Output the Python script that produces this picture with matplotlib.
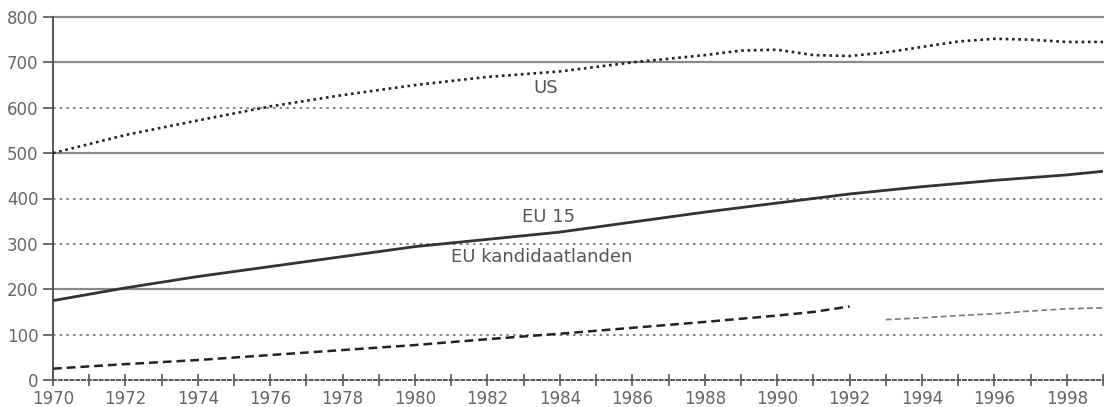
import matplotlib
matplotlib.use("Agg")
import matplotlib.pyplot as plt
import numpy as np

# data
us_years = [1970, 1972, 1974, 1976, 1978, 1980, 1982, 1984, 1986, 1988, 1989, 1990,
            1991, 1992, 1993, 1994, 1995, 1996, 1997, 1998, 1999]
us_vals = [500, 540, 572, 603, 628, 650, 668, 680, 700, 716, 726, 728,
           716, 714, 722, 734, 746, 752, 750, 745, 745]

eu15_years = [1970, 1972, 1974, 1976, 1978, 1980, 1982, 1984, 1986, 1988, 1990,
              1992, 1994, 1996, 1998, 1999]
eu15_vals = [175, 203, 228, 250, 272, 294, 310, 326, 348, 370, 390,
             410, 426, 440, 452, 460]

kand_years = [1970, 1972, 1974, 1976, 1978, 1980, 1982, 1984, 1986, 1988, 1990, 1991, 1992]
kand_vals = [25, 35, 44, 55, 66, 77, 90, 102, 115, 128, 142, 150, 162]

kand2_years = [1993, 1994, 1995, 1996, 1997, 1998, 1999]
kand2_vals = [133, 137, 142, 146, 152, 157, 159]

solid_grid = [200, 500, 700, 800]
dotted_grid = [100, 300, 400, 600]

fig = plt.figure(figsize=(11.06, 4.07), dpi=100)
ax = fig.add_axes([53/1106, 1 - 380/407, 1050/1106, 363/407])

for g in solid_grid:
    ax.axhline(g, color='#8a8a8a', lw=1.6, zorder=1, clip_on=False)
for g in dotted_grid:
    ax.axhline(g, color='#6a6a7a', lw=1.2, ls=(0, (1.5, 2.5)), zorder=1, clip_on=False)

ax.plot(us_years, us_vals, color='#222222', lw=1.9, ls=(0, (1, 1.4)), zorder=3)
ax.plot(eu15_years, eu15_vals, color='#333333', lw=2.0, zorder=3)
ax.plot(kand_years, kand_vals, color='#222222', lw=1.8, ls=(0, (3.5, 2)), zorder=3)
ax.plot(kand2_years, kand2_vals, color='#777777', lw=1.2, ls=(0, (3.5, 2)), zorder=3)

ax.text(1983.6, 643, 'US', color='#555555', fontsize=13, ha='center', va='center',
        family='DejaVu Sans')
ax.text(1983.7, 359, 'EU 15', color='#555555', fontsize=13, ha='center', va='center',
        family='DejaVu Sans')
ax.text(1983.5, 271, 'EU kandidaatlanden', color='#555555', fontsize=13, ha='center',
        va='center', family='DejaVu Sans')

ax.set_xlim(1970, 1999)
ax.set_ylim(0, 800)
ax.set_yticks(range(0, 801, 100))
ax.set_xticks(range(1970, 2000))
ax.set_xticklabels([str(y) if y % 2 == 0 else '' for y in range(1970, 2000)])

for s in ['top', 'right']:
    ax.spines[s].set_visible(False)
ax.spines['left'].set_color('#555555')
ax.spines['left'].set_linewidth(1.4)
ax.spines['bottom'].set_color('#555566')
ax.spines['bottom'].set_linewidth(1.4)
ax.spines['bottom'].set_linestyle((0, (1.5, 1.5)))

ax.tick_params(axis='x', direction='inout', length=9, width=1.2, colors='#555555',
               labelsize=12, pad=2.5, labelcolor='#666666')
ax.tick_params(axis='y', direction='out', length=7, width=1.2, colors='#555555',
               labelsize=12, pad=3.5, labelcolor='#666666')
for lab in ax.get_xticklabels() + ax.get_yticklabels():
    lab.set_family('DejaVu Sans')

fig.savefig('out.png', dpi=100)
